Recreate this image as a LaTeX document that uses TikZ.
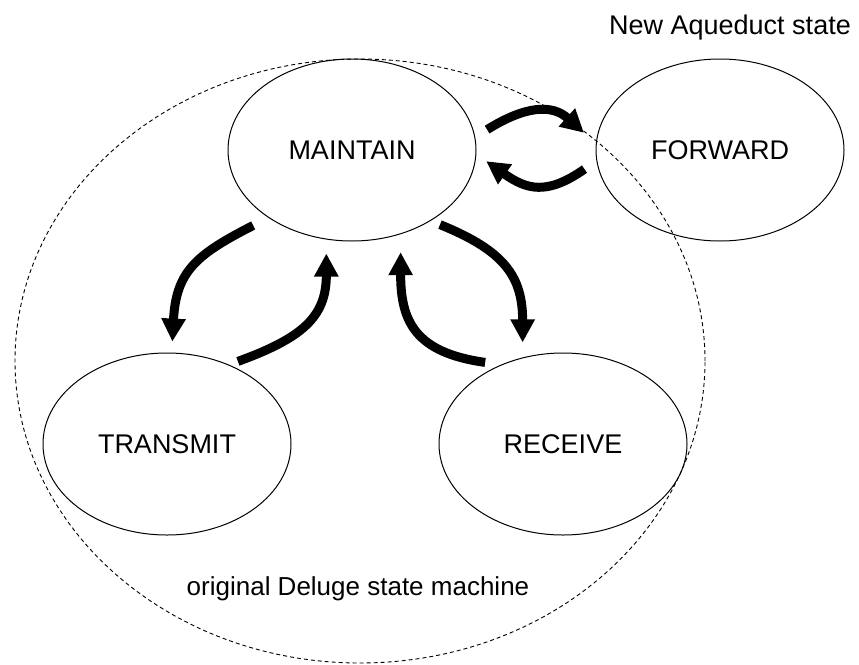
\documentclass[tikz,border=0pt]{standalone}
\usepackage{fontspec}
\setmainfont{Liberation Sans}
\usetikzlibrary{arrows.meta,shapes.geometric}
\begin{document}
\begin{tikzpicture}[x=1pt,y=-1pt,
  state/.style={ellipse,draw,line width=1pt,minimum width=248pt,minimum height=182pt,
    inner sep=0pt,font=\fontsize{27}{32}\selectfont},
  group/.style={ellipse,draw,dash pattern=on 4pt off 3pt,line width=0.9pt,
    minimum width=690pt,minimum height=604pt,inner sep=0pt},
  flow/.style={line width=9pt,draw=black,-{Triangle[width=23pt,length=23pt]}},
  caption/.style={anchor=base,inner sep=0pt,font=\fontsize{27}{32}\selectfont}]
  \useasboundingbox (0,0) rectangle (859,664);

  % boundary of the original state machine
  \node[group] (deluge) at (360,361) {};

  % states
  \node[state] (maint) at (352,150) {MAINTAIN};
  \node[state] (fwd)   at (720,150) {FORWARD};
  \node[state] (trans) at (167,444) {TRANSMIT};
  \node[state] (recv)  at (563,444) {RECEIVE};

  % captions
  \node[caption] (newlbl) at (730,34)  {New Aqueduct state};
  \node[caption,font=\fontsize{26}{31}\selectfont] (oldlbl) at (358,595) {original Deluge state machine};

  % transitions
  \draw[flow,shorten <=14pt,shorten >=16pt] (maint.6) to[out=32,in=138,looseness=1.25] (fwd.177);
  \draw[flow,shorten <=14.5pt,shorten >=12pt] (fwd.185) to[out=215,in=-35,looseness=1.3] (maint.-2);
  \draw[flow,shorten <=17pt,shorten >=11pt] (maint.219) to[out=207,in=87,looseness=1.25] (trans.87);
  \draw[flow,shorten <=9.5pt,shorten >=14pt] (trans.52) to[out=20,in=-90,looseness=1.25] (maint.254);
  \draw[flow,shorten <=10pt,shorten >=15pt] (maint.-42) to[out=-22,in=90,looseness=1.25] (recv.115);
  \draw[flow,shorten <=16pt,shorten >=18pt] (recv.128) to[out=172,in=-90,looseness=1.35] (maint.-60);
\end{tikzpicture}
\end{document}
